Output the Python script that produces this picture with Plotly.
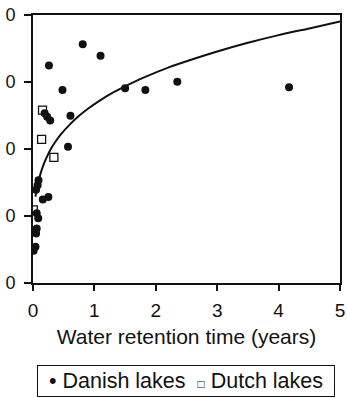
import plotly.graph_objects as go

# Danish lakes (filled circles)
danish_x = [0.81, 1.10, 0.26, 0.48, 1.50, 1.83, 2.35, 4.17, 0.61, 0.19, 0.23, 0.28,
            0.57, 0.09, 0.075, 0.05, 0.16, 0.25, 0.06, 0.085, 0.06, 0.05, 0.04, 0.01]
danish_y = [71.3, 67.8, 64.9, 57.6, 58.1, 57.6, 60.1, 58.4, 49.9, 50.7, 49.6, 48.5,
            40.7, 30.7, 29.2, 27.8, 24.9, 25.7, 20.8, 19.3, 16.3, 14.8, 10.8, 9.6]

# Dutch lakes (open squares)
dutch_x = [0.155, 0.14, 0.34, 0.005]
dutch_y = [51.6, 42.9, 37.5, 21.8]

# Fitted curve, points
curve_x = [0.04, 0.06, 0.08, 0.10, 0.13, 0.18, 0.23, 0.29, 0.37, 0.45, 0.61, 0.75,
           0.90, 1.10, 1.30, 1.50, 1.80, 2.20, 2.60, 3.00, 3.50, 4.00, 4.50, 5.00]
curve_y = [25.8, 27.8, 29.6, 31.1, 33.1, 35.7, 37.8, 40.0, 42.3, 44.3, 47.5, 49.9,
           52.1, 54.6, 56.8, 58.7, 61.3, 64.3, 66.8, 69.1, 71.7, 74.0, 76.0, 78.1]

x_ticks = [0, 1, 2, 3, 4, 5]
y_ticks = [0, 20, 40, 60, 80]
y_ticktext = ["0", "0", "0", "0", "0"]
series_names = ["Danish lakes", "Dutch lakes"]

FONT = "Liberation Sans, Arial, Helvetica, sans-serif"
INK = "#111"

fig = go.Figure()
fig.add_trace(go.Scatter(x=curve_x, y=curve_y, mode="lines",
                         line=dict(color=INK, width=2, shape="spline", smoothing=0.6),
                         showlegend=False, hoverinfo="skip"))
fig.add_trace(go.Scatter(x=danish_x, y=danish_y, mode="markers", name=series_names[0],
                         marker=dict(symbol="circle", size=8, color=INK), showlegend=False))
fig.add_trace(go.Scatter(x=dutch_x, y=dutch_y, mode="markers", name=series_names[1],
                         marker=dict(symbol="square-open", size=8, color=INK, line=dict(width=1.3)),
                         showlegend=False))

nb = "\u00a0"
legend_text = (f"•{nb}{series_names[0]}{nb}{nb}"
               f"<span style='font-size:12px'>□</span>{nb}{series_names[1]}")

fig.add_annotation(
    xref="paper", yref="paper", x=0.0128, y=-0.306, xanchor="left", yanchor="top",
    text=legend_text, showarrow=False, align="center", width=290,
    bordercolor=INK, borderwidth=1, borderpad=3,
    font=dict(family=FONT, size=21.5, color=INK),
)

fig.update_layout(
    width=347, height=398,
    margin=dict(l=33, r=2, t=15, b=115),
    paper_bgcolor="white", plot_bgcolor="white",
    font=dict(family=FONT, size=19, color=INK),
    showlegend=False,
    xaxis=dict(range=[0, 5], tickvals=x_ticks, ticks="outside", ticklen=6, tickwidth=1.5,
               tickcolor=INK, showline=True, linecolor=INK, linewidth=2, mirror=True,
               showgrid=False, zeroline=False, ticklabeloverflow="allow",
               ticklabelstandoff=3, tickfont=dict(size=19),
               title=dict(text="Water retention time (years)", standoff=10,
                          font=dict(size=21))),
    yaxis=dict(range=[0, 80], tickvals=y_ticks, ticktext=y_ticktext, ticks="outside", ticklen=7,
               tickwidth=1.5, tickcolor=INK, showline=True, linecolor=INK, linewidth=2,
               mirror=True, showgrid=False, zeroline=False, ticklabelstandoff=5,
               tickfont=dict(size=18)),
)

fig.write_html("out.html")
